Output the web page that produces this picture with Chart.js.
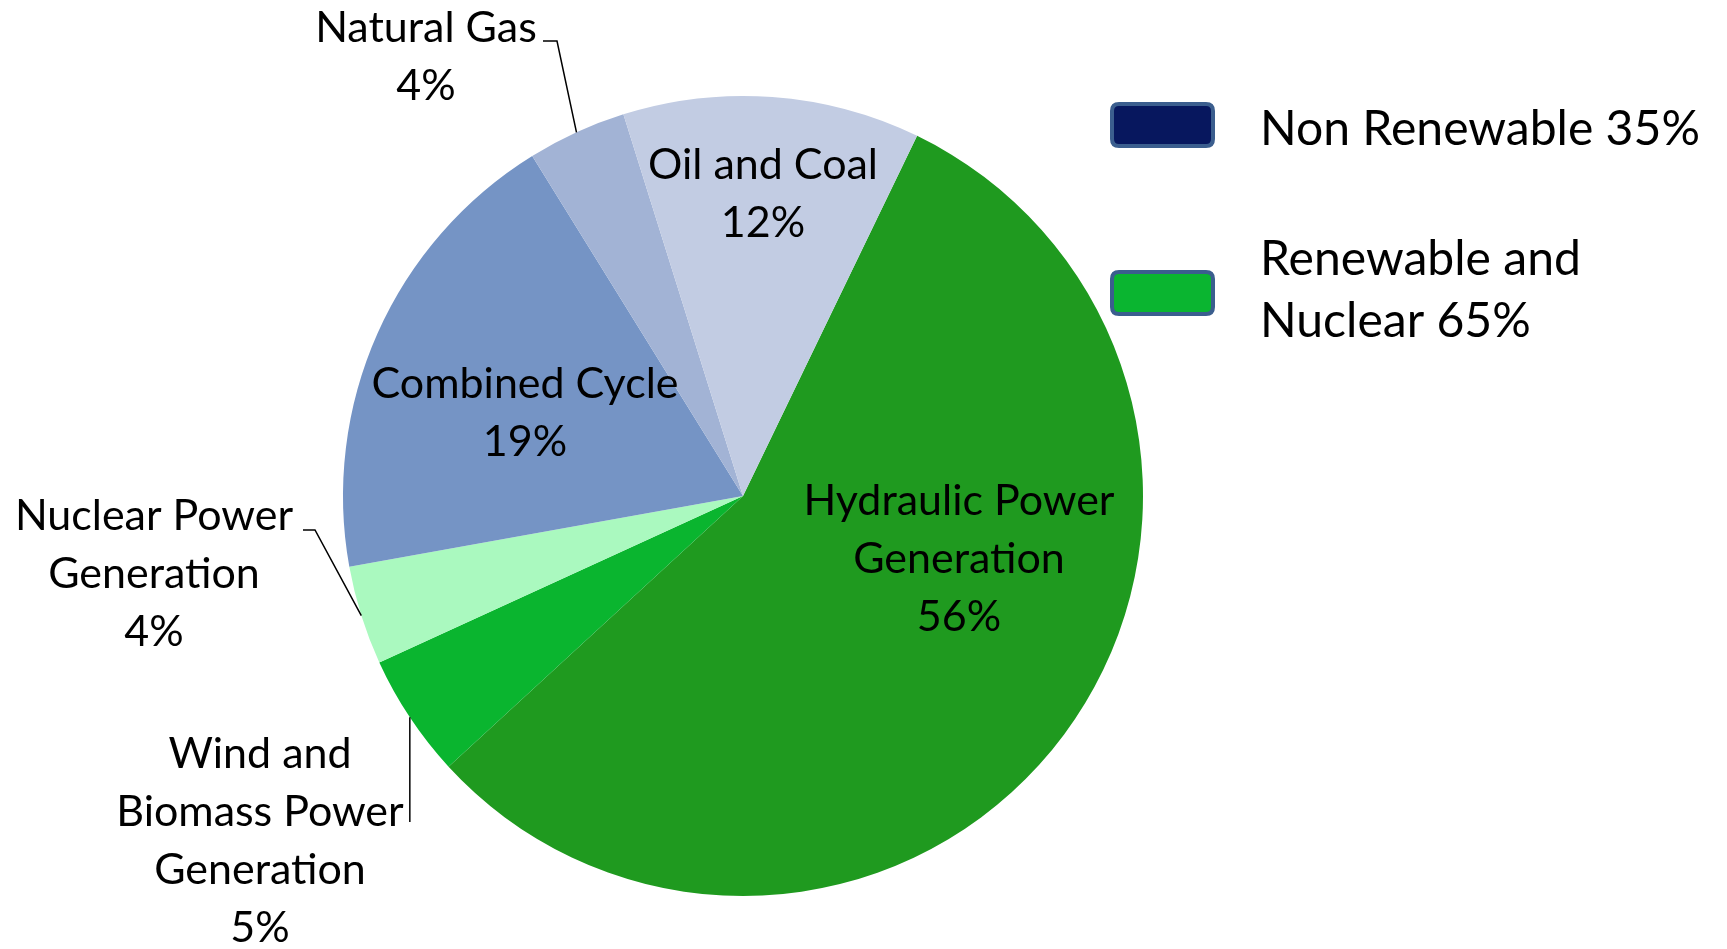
<!DOCTYPE html>
<html>
<head>
<meta charset="utf-8">
<script src="https://cdn.jsdelivr.net/npm/chart.js@4.4.1/dist/chart.umd.min.js"></script>
<style>
html,body{margin:0;padding:0;background:#fff;}
#wrap{width:1727px;height:949px;position:relative;}
</style>
</head>
<body>
<div id="wrap"><canvas id="c" width="1727" height="949"></canvas></div>
<script>
// ---- data ----
const categories = ['Hydraulic Power Generation','Wind and Biomass Power Generation','Nuclear Power Generation','Combined Cycle','Natural Gas','Oil and Coal'];
const shares = [56, 5, 4, 19, 4, 12];
const labelLines = [
  ['Hydraulic Power','Generation','56%'],
  ['Wind and','Biomass Power','Generation','5%'],
  ['Nuclear Power','Generation','4%'],
  ['Combined Cycle','19%'],
  ['Natural Gas','4%'],
  ['Oil and Coal','12%']
];
const groupNames = ['Non Renewable 35%', 'Renewable and\nNuclear 65%'];
const groupShares = [35, 65];

// ---- styles ----
const sliceColors = ['#1f9a1f','#0ab52f','#aaf9bf','#7594c5','#a2b3d5','#c2cce3'];
const groupColors = ['#07175e','#0ab530'];
const FONT = 'Lato, "Open Sans", sans-serif';

function fitSize(ctx, text, target){
  ctx.font = '100px ' + FONT;
  return 100 * target / ctx.measureText(text).width;
}

// label placement relative to pie center, in px (center x, first baseline y), plus leader routing
const labelPlace = [
  {dx: 216, dy: 19, inside:true},
  {dx: -483, dy: 272, leader:'vertical', endY: 326},
  {dx: -589, dy: 34, leader:'elbow', elbow:[-428,34], end:[-440,34]},
  {dx: -218, dy: -98, inside:true},
  {dx: -317, dy: -454, leader:'elbow', elbow:[-186,-455], end:[-200,-455]},
  {dx: 20, dy: -317, inside:true}
];

const labelPlugin = {
  id:'sliceLabels',
  afterDatasetsDraw(chart){
    const ctx = chart.ctx;
    const meta = chart.getDatasetMeta(0);
    const arc0 = meta.data[0];
    const cx = arc0.x, cy = arc0.y, r = arc0.outerRadius;
    const size = fitSize(ctx, 'Oil and Coal', 230);
    const lh = 58;
    ctx.save();
    ctx.font = size + 'px ' + FONT;
    ctx.fillStyle = '#000';
    ctx.textAlign = 'center';
    ctx.textBaseline = 'alphabetic';
    meta.data.forEach((arc, i) => {
      const p = labelPlace[i];
      const lines = labelLines[i];
      lines.forEach((ln, k) => ctx.fillText(ln, cx + p.dx, cy + p.dy + k*lh));
      if (p.leader){
        const mid = (arc.startAngle + arc.endAngle)/2;
        const ex = cx + r*Math.cos(mid), ey = cy + r*Math.sin(mid);
        ctx.beginPath();
        ctx.strokeStyle = '#000';
        ctx.lineWidth = 1.5;
        ctx.moveTo(ex, ey);
        if (p.leader === 'vertical'){
          ctx.lineTo(ex, cy + p.endY);
        } else {
          ctx.lineTo(cx + p.elbow[0], cy + p.elbow[1]);
          ctx.lineTo(cx + p.end[0], cy + p.end[1]);
        }
        ctx.stroke();
      }
    });
    ctx.restore();
  }
};

function roundRect(ctx, x, y, w, h, r){
  ctx.beginPath();
  ctx.moveTo(x+r, y);
  ctx.lineTo(x+w-r, y); ctx.quadraticCurveTo(x+w, y, x+w, y+r);
  ctx.lineTo(x+w, y+h-r); ctx.quadraticCurveTo(x+w, y+h, x+w-r, y+h);
  ctx.lineTo(x+r, y+h); ctx.quadraticCurveTo(x, y+h, x, y+h-r);
  ctx.lineTo(x, y+r); ctx.quadraticCurveTo(x, y, x+r, y);
  ctx.closePath();
}

const legendPlugin = {
  id:'groupLegend',
  afterDraw(chart){
    const ctx = chart.ctx;
    const size = fitSize(ctx, 'Non Renewable 35%', 440);
    const boxes = [{y:104, ty:145}, {y:272, ty:275}];
    ctx.save();
    groupNames.forEach((name, i) => {
      const b = boxes[i];
      roundRect(ctx, 1112, b.y, 101, 42, 7);
      ctx.fillStyle = groupColors[i];
      ctx.fill();
      ctx.lineWidth = 4;
      ctx.strokeStyle = '#3b5e8e';
      ctx.stroke();
      ctx.font = size + 'px ' + FONT;
      ctx.fillStyle = '#000';
      ctx.textAlign = 'left';
      ctx.textBaseline = 'alphabetic';
      name.split('\n').forEach((ln, k) => ctx.fillText(ln, 1260, b.ty + k*62));
    });
    ctx.restore();
  }
};

new Chart(document.getElementById('c'), {
  type:'pie',
  data:{
    labels: categories,
    datasets:[{
      data: shares,
      backgroundColor: sliceColors,
      borderWidth: 0
    }]
  },
  options:{
    responsive:false,
    animation:false,
    rotation: 25.8,
    layout:{padding:{left:343, right:584, top:96, bottom:53}},
    plugins:{legend:{display:false}, tooltip:{enabled:false}}
  },
  plugins:[labelPlugin, legendPlugin]
});
</script>
</body>
</html>
